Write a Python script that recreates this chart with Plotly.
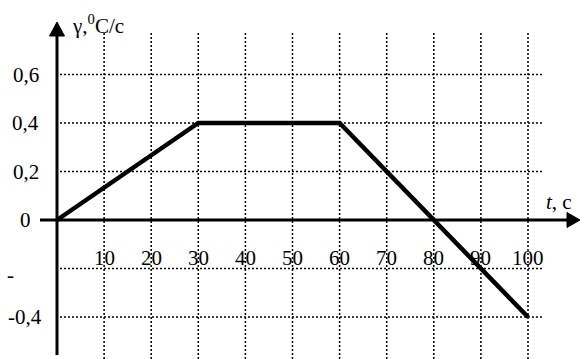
import plotly.graph_objects as go

# ---- data ----
t = [0, 30, 60, 100]
gamma = [0, 0.4, 0.4, -0.4]

x_ticks = [10, 20, 30, 40, 50, 60, 70, 80, 90, 100]
x_tick_labels = ["10", "20", "30", "40", "50", "60", "70", "80", "90", "100"]

y_grid = [0.6, 0.4, 0.2, -0.2, -0.4]
y_ticks = [0.6, 0.4, 0.2, 0, -0.2, -0.4]
y_tick_labels = ["0,6", "0,4", "0,2", "0", "-", "-0,4"]

# ---- geometry (pixel based, window coordinates) ----
W, H = 587, 359
X0_PX, Y0_PX = 57, 220           # origin position in window pixels
PX_PER_X = 4.71
PX_PER_Y = 242.5
X_ARROW_TIP = 580

def px_to_x(px):
    return (px - X0_PX) / PX_PER_X

def py_to_y(py):
    return (Y0_PX - py) / PX_PER_Y

def px_to_paper(px):
    return px / W

x_range = [px_to_x(0), px_to_x(W)]
y_range = [py_to_y(H), py_to_y(0)]

FONT = "Liberation Serif, Times New Roman, serif"
fs = 21

fig = go.Figure()

shapes = []
grid_line = dict(color="black", width=1.5, dash="2px,2px")
# vertical grid
for xv in x_ticks:
    shapes.append(dict(type="line", xref="x", yref="y", layer="below",
                       x0=xv, x1=xv, y0=py_to_y(33), y1=py_to_y(H + 5), line=grid_line))
# horizontal grid
for yv in y_grid:
    shapes.append(dict(type="line", xref="x", yref="y", layer="below",
                       x0=px_to_x(60), x1=px_to_x(543), y0=yv, y1=yv, line=grid_line))

# axis lines
axis_line = dict(color="black", width=3)
shapes.append(dict(type="line", xref="x", yref="y", x0=px_to_x(40), x1=px_to_x(X_ARROW_TIP - 8),
                   y0=0, y1=0, line=axis_line))
shapes.append(dict(type="line", xref="x", yref="y", x0=0, x1=0,
                   y0=py_to_y(355), y1=py_to_y(32), line=axis_line))

# arrow heads (filled triangles, drawn as paper-referenced paths)
def tri_paper(points):
    return "M " + " L ".join(f"{a / W},{1 - b / H}" for a, b in points) + " Z"

shapes.append(dict(type="path", xref="paper", yref="paper",
                   path=tri_paper([(X0_PX, 22), (X0_PX - 7.5, 36), (X0_PX + 7.5, 36)]),
                   fillcolor="black", line=dict(color="black", width=1)))
shapes.append(dict(type="path", xref="paper", yref="paper",
                   path=tri_paper([(X_ARROW_TIP, Y0_PX), (X_ARROW_TIP - 13, Y0_PX - 7.5),
                                   (X_ARROW_TIP - 13, Y0_PX + 7.5)]),
                   fillcolor="black", line=dict(color="black", width=1)))

fig.add_trace(go.Scatter(x=t, y=gamma, mode="lines",
                         line=dict(color="black", width=4.5),
                         hoverinfo="skip", showlegend=False))

annotations = []
# x tick labels
for xv, lab in zip(x_ticks, x_tick_labels):
    annotations.append(dict(x=xv, y=py_to_y(258), xref="x", yref="y",
                            text=lab, showarrow=False, xanchor="center", yanchor="middle",
                            font=dict(family=FONT, size=fs, color="black")))

# y tick labels
y_label_right_px = {"0,6": 41, "0,4": 41, "0,2": 41, "0": 33, "-": 16, "-0,4": 44}
for yv, lab in zip(y_ticks, y_tick_labels):
    annotations.append(dict(x=px_to_paper(y_label_right_px[lab]), y=yv, xref="paper", yref="y",
                            text=lab, showarrow=False, xanchor="right", yanchor="middle",
                            yshift=-6 if lab == "-" else 0,
                            font=dict(family=FONT, size=fs, color="black")))

# axis titles
annotations.append(dict(x=px_to_paper(70), y=py_to_y(24), xref="paper", yref="y",
                        text="γ,<sup>0</sup>C/c", showarrow=False,
                        xanchor="left", yanchor="middle",
                        font=dict(family=FONT, size=fs, color="black")))
annotations.append(dict(x=px_to_paper(544), y=py_to_y(202), xref="paper", yref="y",
                        text="<i>t</i>, c", showarrow=False,
                        xanchor="left", yanchor="middle",
                        font=dict(family=FONT, size=fs, color="black")))

fig.update_layout(
    width=W, height=H,
    margin=dict(l=0, r=0, t=0, b=0),
    paper_bgcolor="white", plot_bgcolor="white",
    xaxis=dict(range=x_range, visible=False, fixedrange=True),
    yaxis=dict(range=y_range, visible=False, fixedrange=True),
    shapes=shapes, annotations=annotations,
    showlegend=False,
)

fig.write_html(
    "out.html",
    config={"displayModeBar": False},
    post_script=("document.documentElement.style.overflow='hidden';"
                 "document.body.style.margin='0';"
                 "document.body.style.overflow='hidden';"),
)
